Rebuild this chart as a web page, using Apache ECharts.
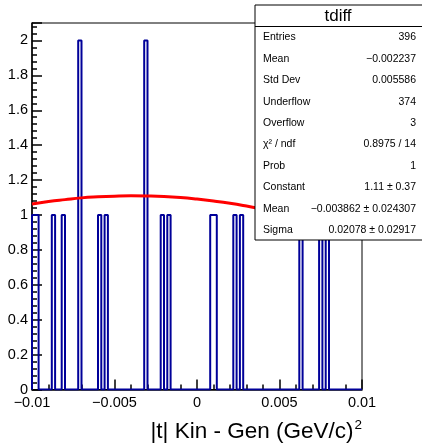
<!DOCTYPE html>
<html>
<head>
<meta charset="utf-8">
<script src="https://cdn.jsdelivr.net/npm/echarts@6/dist/echarts.min.js"></script>
<style>
html,body{margin:0;padding:0;background:#fff;}
#c{width:422px;height:443px;}
</style>
</head>
<body>
<div id="c"></div>
<script>
// Histogram binning (100 bins from -0.01 to 0.01)
const histMin = -0.01;
const histMax = 0.01;
const nBins = 100;
// Low edges of non-empty bins and their contents
const binLowEdges = [-0.0100, -0.0098, -0.0088, -0.0082, -0.0072, -0.0060, -0.0056, -0.0032, -0.0022, -0.0018, 0.0008, 0.0010, 0.0022, 0.0026, 0.0062, 0.0074, 0.0078];
const binCounts   = [1, 1, 1, 1, 2, 1, 1, 2, 1, 1, 1, 1, 1, 1, 1, 1, 1];
// Gaussian fit curve
const fitX = [-0.010,-0.009,-0.008,-0.007,-0.006,-0.005,-0.004,-0.003,-0.002,-0.001,0.000,0.001,0.002,0.003,0.004,0.005,0.006,0.007,0.008,0.009,0.010];
const fitY = [1.063,1.077,1.088,1.098,1.104,1.108,1.110,1.109,1.106,1.100,1.091,1.080,1.067,1.051,1.033,1.014,0.992,0.968,0.943,0.917,0.889];
// Axis tick settings
const xTickStep = 0.005;
const yTickStep = 0.2;
const yMax = 2.1;
// Stats box
const statsTitle = 'tdiff';
const statsLabels = ['Entries','Mean','Std Dev','Underflow','Overflow','χ² / ndf','Prob','Constant','Mean','Sigma'];
const statsValues = ['396','\u22120.002237','0.005586','374','3','0.8975 / 14','1','1.11 \u00b1 0.37','\u22120.003862 \u00b1 0.024307','0.02078 \u00b1 0.02917'];
const xTitle = '|t| Kin - Gen (GeV/c)';

// build histogram step outline
const binW = (histMax - histMin) / nBins;
const counts = new Array(nBins).fill(0);
binLowEdges.forEach((lo, k) => { counts[Math.round((lo - histMin) / binW)] += binCounts[k]; });
const stepPts = [[histMin, 0]];
for (let i = 0; i < nBins; i++) {
  const lo = +(histMin + i * binW).toFixed(6), hi = +(histMin + (i + 1) * binW).toFixed(6);
  stepPts.push([lo, counts[i]]);
  stepPts.push([hi, counts[i]]);
}
stepPts.push([histMax, 0]);

const FONT = 'Liberation Sans, Arial, Helvetica, sans-serif';
const fmtX = v => { v = parseFloat(v.toPrecision(6)); if (v === 0) return '0'; return (v < 0 ? '\u2212' : '') + Math.abs(v); };
const fmtY = v => { v = parseFloat(v.toPrecision(6)); if (v > 2.05) return ''; return String(v); };

const chart = echarts.init(document.getElementById('c'), null, {renderer: 'canvas'});

const graphics = [];
const bx = 255, by = 5, bw = 170, bh = 235;
graphics.push({type:'rect', z:100, shape:{x:bx, y:by, width:bw, height:bh}, style:{fill:'#fff', stroke:'#000', lineWidth:1}});
graphics.push({type:'line', z:101, shape:{x1:bx, y1:26.5, x2:bx+bw, y2:26.5}, style:{stroke:'#000', lineWidth:1}});
graphics.push({type:'text', z:101, x:338, y:16.5, style:{text:statsTitle, font:'17px ' + FONT, fill:'#000', align:'center', verticalAlign:'middle'}});
statsLabels.forEach((lab, i) => {
  const y = 37.5 + i * 21.4;
  graphics.push({type:'text', z:101, x:263, y:y, style:{text:lab, font:'10.5px ' + FONT, fill:'#000', align:'left', verticalAlign:'middle'}});
  graphics.push({type:'text', z:101, x:416, y:y, style:{text:statsValues[i], font:'10.5px ' + FONT, fill:'#000', align:'right', verticalAlign:'middle'}});
});
graphics.push({type:'text', z:101, x:362, y:432, style:{
  text:'{a|' + xTitle + '}{s|2}', align:'right', verticalAlign:'middle',
  rich:{a:{font:'22.5px ' + FONT, fill:'#000'}, s:{font:'13.5px ' + FONT, fill:'#000', verticalAlign:'top', padding:[0,0,13,1]}}
}});

chart.setOption({
  animation: false,
  backgroundColor: '#fff',
  grid: {left: 32, top: 23, right: 60, bottom: 53.5, show: true, borderColor: '#000', borderWidth: 1, backgroundColor: 'transparent'},
  xAxis: {
    type: 'value', min: histMin, max: histMax, interval: xTickStep,
    axisLine: {show: true, onZero: false, lineStyle: {color: '#000', width: 1.5}},
    axisTick: {show: true, inside: true, length: 10, lineStyle: {color: '#000', width: 1.5}},
    minorTick: {show: true, splitNumber: 5, length: 5, lineStyle: {color: '#000', width: 1.5}},
    splitLine: {show: false},
    axisLabel: {color: '#000', fontSize: 14.5, fontFamily: FONT, margin: 6, formatter: fmtX}
  },
  yAxis: {
    type: 'value', min: 0, max: yMax, interval: yTickStep,
    axisLine: {show: true, onZero: false, lineStyle: {color: '#000', width: 1.5}},
    axisTick: {show: true, inside: true, length: 10, lineStyle: {color: '#000', width: 1.5}},
    minorTick: {show: true, splitNumber: 5, length: 5, lineStyle: {color: '#000', width: 1.5}},
    splitLine: {show: false},
    axisLabel: {color: '#000', fontSize: 14.5, fontFamily: FONT, margin: 4, formatter: fmtY}
  },
  series: [
    {type: 'line', data: stepPts, showSymbol: false, symbol: 'none', z: 2,
     lineStyle: {color: '#000099', width: 2}},
    {type: 'line', data: fitX.map((x, i) => [x, fitY[i]]), smooth: true, showSymbol: false, symbol: 'none', z: 3,
     lineStyle: {color: '#ff0000', width: 3}}
  ],
  graphic: graphics
});
</script>
</body>
</html>
